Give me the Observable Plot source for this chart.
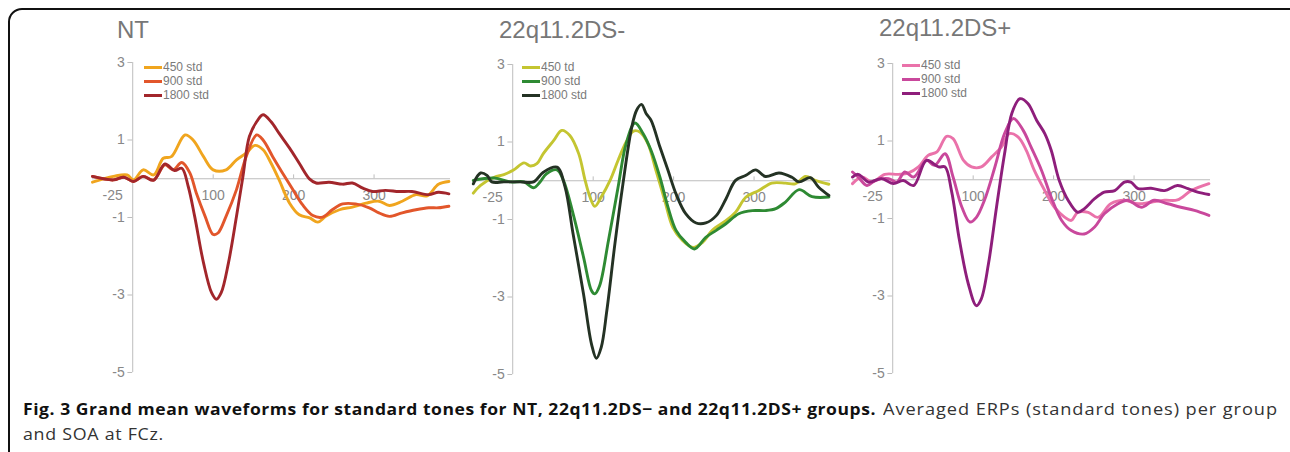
<!DOCTYPE html>
<html><head><meta charset="utf-8">
<script src="https://cdn.jsdelivr.net/npm/d3@7"></script>
<script src="https://cdn.jsdelivr.net/npm/@observablehq/plot@0.6"></script>
<style>
body{margin:0;background:#fff;}
#fig{position:relative;width:1290px;height:452px;overflow:hidden;font-family:"Liberation Sans",Arial,sans-serif;background:#fff;}
#frame{position:absolute;left:8px;top:8px;width:1300px;height:480px;border:2.5px solid #111;border-radius:14px;box-sizing:border-box;}
.panel{position:absolute;width:380px;height:390px;}
.title{position:absolute;font-size:24px;color:#777;line-height:1;white-space:nowrap;}
.row{position:absolute;white-space:nowrap;display:flex;align-items:center;font-size:12px;color:#7a7a7a;line-height:1;height:12px;}
.sw{display:inline-block;width:18px;height:3px;margin-right:1px;}
.cap{position:absolute;display:inline-block;font-family:"Open Sans",sans-serif;font-size:16.5px;line-height:1;white-space:nowrap;color:#333;transform-origin:0 50%;}
.cap.b{font-weight:bold;color:#111;}
</style></head>
<body>
<div id="fig"><div id="frame"></div>
<span class="cap b" id="cap1" style="left:23px;top:401.3px">Fig. 3 Grand mean waveforms for standard tones for NT, 22q11.2DS− and 22q11.2DS+ groups.</span>
<span class="cap" id="cap2" style="left:883px;top:401.3px">Averaged ERPs (standard tones) per group</span>
<span class="cap" id="cap3" style="left:23px;top:426px">and SOA at FCz.</span>
</div>
<script>
// ---- tick labels ----
const yTicks = [3, 1, -1, -3, -5];
const yTickLabels = ["3", "1", "-1", "-3", "-5"];
const xLabelPos = [-25, 100, 200, 300];
const xTickLabels = ["-25", "100", "200", "300"];
const xTickMarks = [100, 200, 300];

// ---- panel titles & series names ----
const titles = ["NT", "22q11.2DS-", "22q11.2DS+"];
const namesNT = ["450 std", "900 std", "1800 std"];
const namesNeg = ["450 td", "900 std", "1800 std"];
const namesPos = ["450 std", "900 std", "1800 std"];

// ---- NT ----
const ntMs450 = [-50,-24,-7,1,13,26,38,48,65,75,88,100,116,129,141,152,162,172,182,195,207,220,230,240,257,273,290,306,319,335,352,366,380,393];
const ntV450  = [-0.09,0.06,0.1,-0.03,0.23,0.1,0.53,0.57,1.13,1.0,0.57,0.23,0.23,0.49,0.66,0.86,0.75,0.4,-0.03,-0.63,-0.93,-1.01,-1.12,-0.97,-0.8,-0.73,-0.63,-0.58,-0.69,-0.58,-0.41,-0.44,-0.14,-0.07];
const ntMs900 = [-50,-24,-11,1,13,26,40,50,61,71,79,90,100,106,116,129,141,154,162,174,185,199,211,224,236,248,261,277,294,306,319,335,352,368,380,393];
const ntV900  = [0.06,-0.03,0.04,-0.07,0.06,-0.03,0.36,0.23,0.42,0.15,-0.37,-0.97,-1.44,-1.4,-0.97,-0.28,0.57,1.13,1.0,0.57,0.19,-0.28,-0.67,-0.95,-0.99,-0.8,-0.65,-0.65,-0.75,-0.88,-0.97,-0.88,-0.8,-0.75,-0.75,-0.71];
const ntMs1800 = [-50,-24,-11,1,13,26,40,52,61,69,77,88,98,104,110,119,129,137,145,154,162,172,182,195,207,220,228,244,261,273,286,298,314,331,347,368,380,393];
const ntV1800  = [0.06,-0.03,0.04,-0.07,0.06,-0.04,0.38,0.21,0.27,-0.2,-0.97,-2.17,-2.94,-3.11,-2.94,-2.17,-0.97,0.06,1.09,1.47,1.65,1.47,1.17,0.79,0.4,-0.01,-0.11,-0.09,-0.14,-0.11,-0.24,-0.33,-0.3,-0.33,-0.33,-0.41,-0.35,-0.39];

// ---- 22q11.2DS- ----
const negMs450 = [-49,-40,-23,-11,1,14,22,30,38,51,61,71,82,90,96,102,110,121,131,141,150,158,168,178,189,199,211,224,236,248,265,277,290,306,322,339,351,364,376,393];
const negV450  = [-0.32,-0.12,0.09,0.16,0.28,0.46,0.38,0.44,0.7,1.04,1.3,1.17,0.7,0.01,-0.42,-0.66,-0.42,0.01,0.53,1.0,1.28,1.26,0.96,0.27,-0.51,-1.2,-1.54,-1.72,-1.59,-1.28,-1.03,-0.81,-0.42,-0.25,-0.06,-0.06,-0.08,0.11,0.01,-0.09];
const negMs900 = [-49,-23,-3,14,26,34,42,55,63,75,88,98,102,108,119,131,141,152,162,172,183,193,203,215,226,240,253,265,281,298,314,327,339,356,372,393];
const negV900  = [0.01,0.07,-0.03,-0.03,-0.18,-0.03,0.18,0.28,0.01,-0.85,-1.97,-2.84,-2.92,-2.71,-1.54,-0.16,0.96,1.49,1.22,0.78,0.09,-0.68,-1.28,-1.59,-1.76,-1.46,-1.28,-1.11,-0.85,-0.77,-0.77,-0.72,-0.55,-0.23,-0.41,-0.42];
const negMs1800 = [-49,-40,-32,-26,-11,9,26,38,55,65,75,88,98,104,110,117,127,137,148,154,160,166,172,183,193,203,215,228,240,253,265,277,290,302,314,331,347,356,370,380,393];
const negV1800  = [-0.08,0.2,0.14,-0.03,-0.03,-0.03,-0.03,0.22,0.35,-0.16,-1.37,-2.92,-4.22,-4.58,-4.3,-3.35,-1.63,-0.08,1.39,1.82,1.97,1.73,1.56,0.87,0.27,-0.34,-0.85,-1.09,-1.09,-0.9,-0.47,0.01,0.14,0.28,0.11,0.2,0.09,-0.03,0.08,-0.16,-0.38];

// ---- 22q11.2DS+ ----
const posMs450 = [-50,-38,-26,-10,7,19,32,44,55,67,75,88,98,110,123,135,145,156,166,176,189,201,214,222,230,243,255,271,288,305,321,338,354,371,393];
const posV450  = [-0.1,0.07,-0.06,0.14,0.14,0.17,0.33,0.63,0.72,1.12,1.06,0.5,0.33,0.33,0.59,0.84,1.19,1.1,0.76,0.24,-0.28,-0.71,-0.97,-1.05,-0.84,-0.84,-0.97,-0.62,-0.53,-0.62,-0.58,-0.53,-0.52,-0.28,-0.1];
const posMs900 = [-50,-43,-32,-22,-5,5,15,26,42,52,65,75,86,96,104,114,127,139,150,162,172,185,197,210,222,238,251,263,280,292,309,325,342,358,375,393];
const posV900  = [0.2,0.07,-0.15,-0.02,0.03,-0.06,0.2,0.07,0.5,0.37,0.67,0.07,-0.71,-1.09,-0.97,-0.53,0.33,1.19,1.58,1.28,0.84,0.24,-0.45,-1.05,-1.31,-1.4,-1.22,-0.88,-0.62,-0.53,-0.71,-0.53,-0.62,-0.71,-0.79,-0.92];
const posMs1800 = [-50,-43,-30,-14,1,13,26,42,57,65,73,83,94,104,110,119,129,139,148,158,168,179,189,197,207,218,230,238,251,263,276,288,296,305,321,338,354,367,379,393];
const posV1800  = [0.07,0.14,-0.06,0.03,-0.1,-0.02,-0.15,0.5,0.33,0.33,-0.28,-1.57,-2.69,-3.25,-3.08,-2.17,-0.71,0.67,1.71,2.09,1.97,1.53,1.19,0.76,-0.02,-0.53,-0.84,-0.75,-0.49,-0.32,-0.28,-0.06,-0.06,-0.23,-0.22,-0.28,-0.15,-0.23,-0.32,-0.38];

// ---- colours ----
const colorsNT  = ["#F0A51E", "#E2562B", "#A2262B"];
const colorsNeg = ["#C4C531", "#2E8A33", "#243224"];
const colorsPos = ["#EA72AA", "#C9489C", "#8E1E7B"];

// ---- layout (page pixels) ----
const panels = [
  {title: titles[0], names: namesNT, colors: colorsNT, ms: [ntMs450, ntMs900, ntMs1800], v: [ntV450, ntV900, ntV1800],
   left: 80, top: 0, titleX: 117, titleBase: 38, legX: 144, legY: 67},
  {title: titles[1], names: namesNeg, colors: colorsNeg, ms: [negMs450, negMs900, negMs1800], v: [negV450, negV900, negV1800],
   left: 460, top: 2, titleX: 499, titleBase: 38, legX: 522, legY: 67},
  {title: titles[2], names: namesPos, colors: colorsPos, ms: [posMs450, posMs900, posMs1800], v: [posV450, posV900, posV1800],
   left: 840, top: 1, titleX: 879, titleBase: 36, legX: 902, legY: 65}
];

const fig = document.getElementById("fig");
for (const p of panels) {
  const rows = p.names.flatMap((name, i) => p.ms[i].map((m, j) => ({ms: m, v: p.v[i][j], k: name})));
  const chart = Plot.plot({
    width: 380, height: 390,
    marginLeft: 12, marginRight: 10, marginTop: 62, marginBottom: 18,
    style: {fontFamily: "Liberation Sans, Arial, sans-serif", background: "transparent", overflow: "visible"},
    x: {domain: [-50, 395], axis: null},
    y: {domain: [-5, 3], axis: null},
    color: {domain: p.names, range: p.colors},
    marks: [
      Plot.ruleY([0], {stroke: "#bdbdbd", strokeWidth: 1}),
      Plot.ruleX([0], {y1: -5, y2: 3, stroke: "#bdbdbd", strokeWidth: 1}),
      Plot.ruleY(yTicks, {y: d => d, x1: -6, x2: 0, stroke: "#bdbdbd"}),
      Plot.ruleX(xTickMarks, {x: d => d, y1: 0, y2: 0.1, stroke: "#bdbdbd"}),
      Plot.text(yTicks, {x: 0, y: d => d, text: (d, i) => yTickLabels[i], dx: -8, textAnchor: "end", fill: "#888", fontSize: 14}),
      Plot.text(xLabelPos, {x: d => d, y: 0, text: (d, i) => xTickLabels[i], dy: 17, fill: "#888", fontSize: 14}),
      Plot.line(rows, {x: "ms", y: "v", z: "k", stroke: "k", strokeWidth: 2.9, curve: "catmull-rom", strokeLinejoin: "round"})
    ]
  });
  const wrap = document.createElement("div");
  wrap.className = "panel";
  wrap.style.left = p.left + "px";
  wrap.style.top = p.top + "px";
  wrap.appendChild(chart);
  fig.appendChild(wrap);

  const t = document.createElement("div");
  t.className = "title";
  t.textContent = p.title;
  t.style.left = p.titleX + "px";
  t.style.top = (p.titleBase - 20.3) + "px";
  fig.appendChild(t);

  p.names.forEach((name, i) => {
    const r = document.createElement("div");
    r.className = "row";
    r.style.left = p.legX + "px";
    r.style.top = (p.legY - 6 + i * 14.2) + "px";
    const sw = document.createElement("span");
    sw.className = "sw";
    sw.style.background = p.colors[i];
    r.appendChild(sw);
    r.appendChild(document.createTextNode(name));
    fig.appendChild(r);
  });
}

// fit caption pieces to the widths they occupy in the figure:
// half of the stretch by a horizontal scale, the rest by letter spacing
const capFit = [["cap1", 853], ["cap2", 395], ["cap3", 141]];
for (const [id, target] of capFit) {
  const el = document.getElementById(id);
  const w = el.getBoundingClientRect().width;
  const n = el.textContent.length;
  const s = Math.sqrt(target / w);
  el.style.letterSpacing = ((target / s - w) / n) + "px";
  el.style.transform = "scaleX(" + s + ")";
}
</script>
</body></html>
